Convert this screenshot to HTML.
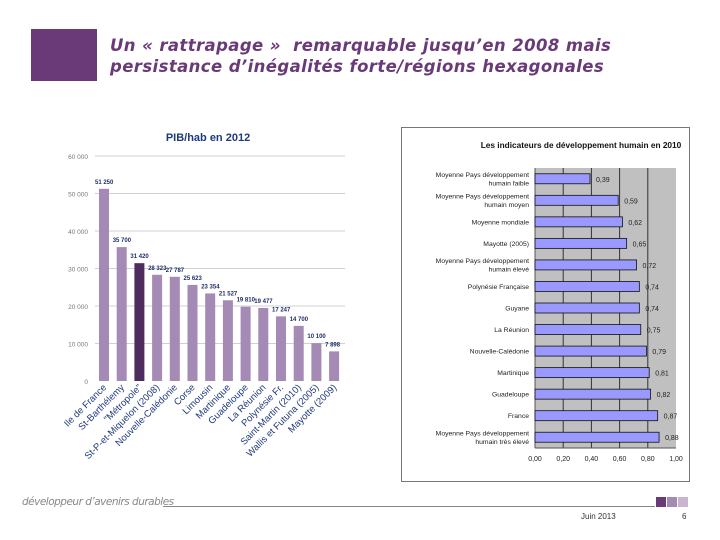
<!DOCTYPE html>
<html><head><meta charset="utf-8"><style>
body{margin:0;background:#fff;}
#root{position:relative;width:720px;height:540px;overflow:hidden;font-family:"Liberation Sans",sans-serif;}
.t{position:absolute;white-space:nowrap;}
</style></head><body>
<div id="root">
<div style="position:absolute;left:31px;top:29px;width:66px;height:52px;background:#6a3a78"></div>
<div class="t" style="left:110px;top:35px;font-size:16.5px;line-height:21px;font-weight:bold;font-style:italic;color:#6a3a78;font-family:'DejaVu Sans',sans-serif;letter-spacing:0.4px">Un « rattrapage »&nbsp; remarquable jusqu’en 2008 mais<br>persistance d’inégalités forte/régions hexagonales</div>

<svg id="left" width="720" height="540" style="position:absolute;left:0;top:0" font-family="Liberation Sans, sans-serif"></svg>

<div style="position:absolute;left:401px;top:127px;width:287px;height:353px;border:1px solid #777"></div>
<svg id="right" width="720" height="540" style="position:absolute;left:0;top:0" font-family="Liberation Sans, sans-serif"></svg>

<div class="t" style="left:22px;top:496px;font-size:10.5px;color:#888;font-style:italic;font-family:'DejaVu Sans',sans-serif;letter-spacing:-0.5px">développeur d’avenirs durables</div>
<div style="position:absolute;left:163px;top:506px;width:492px;height:1px;background:#888"></div>
<div style="position:absolute;left:656px;top:497px;width:10px;height:10px;background:#6a3a78"></div>
<div style="position:absolute;left:667px;top:497px;width:10px;height:10px;background:#a48ab4"></div>
<div style="position:absolute;left:678px;top:497px;width:10px;height:10px;background:#c8b6d0"></div>
<div class="t" style="left:581px;top:512px;font-size:8px;color:#333">Juin 2013</div>
<div class="t" style="left:682px;top:512px;font-size:8px;color:#333">6</div>
</div>
<script>
const pibCategories=["Ile de France","St-Barthélemy","\"Métropole\"","St-P-et-Miquelon (2008)","Nouvelle-Calédonie","Corse","Limousin","Martinique","Guadeloupe","La Réunion","Polynésie Fr.","Saint-Martin (2010)","Wallis et Futuna (2005)","Mayotte (2009)"];
const pibValues=[51250,35700,31420,28323,27787,25623,23354,21527,19810,19477,17247,14700,10100,7898];
const pibLabels=["51 250","35 700","31 420","28 323","27 787","25 623","23 354","21 527","19 810","19 477","17 247","14 700","10 100","7 898"];
const pibTicks=[0,10000,20000,30000,40000,50000,60000];
const pibTickLabels=["0","10 000","20 000","30 000","40 000","50 000","60 000"];

const idhCategories=["Moyenne Pays développement|humain faible","Moyenne Pays développement|humain moyen","Moyenne mondiale","Mayotte (2005)","Moyenne Pays développement|humain élevé","Polynésie Française","Guyane","La Réunion","Nouvelle-Calédonie","Martinique","Guadeloupe","France","Moyenne Pays développement|humain très élevé"];
const idhValues=[0.39,0.59,0.62,0.65,0.72,0.74,0.74,0.75,0.79,0.81,0.82,0.87,0.88];
const idhTicks=[0,0.2,0.4,0.6,0.8,1.0];

const NS="http://www.w3.org/2000/svg";
function mk(svg,tag,attrs,text){const e=document.createElementNS(NS,tag);for(const k in attrs)e.setAttribute(k,attrs[k]);if(text!==undefined)e.textContent=text;svg.appendChild(e);return e;}

// Left chart
const L=document.getElementById('left');
const ly=v=>381-v*225/60000;
const lx=i=>99+i*17.7;
let e=mk(L,'text',{x:208,y:141,'font-size':11,'font-weight':'bold','text-anchor':'middle',fill:'#1f3a7a'},'PIB/hab en 2012');

pibTicks.forEach((t,i)=>{
  if(t>0){const g=mk(L,'line',{x1:95,x2:345,y1:ly(t),y2:ly(t),stroke:'#d0d0d0','stroke-width':1});
  }
  const tl=mk(L,'text',{x:88,y:ly(t)+3,'font-size':6.5,'text-anchor':'end',fill:'#777'},pibTickLabels[i]);
  
});
pibValues.forEach((v,i)=>{
  const b=mk(L,'rect',{x:lx(i),y:ly(v),width:10,height:381-ly(v),fill:i===2?'#4f2c5e':'#a48ab4'});
  
  const t=mk(L,'text',{x:lx(i)-4,y:ly(v)-5,'font-size':6,'font-weight':'bold',fill:'#1f2f6a'},pibLabels[i]);
  
  const c=mk(L,'text',{x:lx(i)+8,y:388,'font-size':9.5,'text-anchor':'end',fill:'#1f3a7a',transform:`rotate(-45 ${lx(i)+8} 388)`},pibCategories[i]);
  
});

// Right chart
const R=document.getElementById('right');
const rx=v=>535+v*141;
const rowH=(448-168)/idhCategories.length;
e=mk(R,'text',{x:581,y:148,'font-size':8.3,'font-weight':'bold','text-anchor':'middle',fill:'#111'},'Les indicateurs de développement humain en 2010');

e=mk(R,'rect',{x:535,y:168,width:141,height:280,fill:'#c0c0c0'});

idhTicks.forEach(t=>{
  if(t>0&&t<1){const g=mk(R,'line',{x1:rx(t),x2:rx(t),y1:168,y2:448,stroke:'#333','stroke-width':1});
  }
  const tl=mk(R,'text',{x:rx(t),y:461,'font-size':7,'text-anchor':'middle',fill:'#222'},t.toFixed(2).replace('.',','));
  
});
e=mk(R,'line',{x1:535,x2:535,y1:168,y2:448,stroke:'#555'});

e=mk(R,'line',{x1:535,x2:676,y1:448,y2:448,stroke:'#555'});

idhValues.forEach((v,i)=>{
  const cy=168+rowH*(i+0.5);
  const b=mk(R,'rect',{x:535,y:cy-5,width:rx(v)-535,height:10,fill:'#9999ff',stroke:'#111','stroke-width':0.8});
  
  const t=mk(R,'text',{x:rx(v)+6,y:cy+3,'font-size':7,fill:'#222'},v.toFixed(2).replace('.',','));
  
  const parts=idhCategories[i].split('|');
  parts.forEach((p,j)=>{
    const yy=cy+2.5+(j-(parts.length-1)/2)*8.5;
    const c=mk(R,'text',{x:529,y:yy,'font-size':6.8,'text-anchor':'end',fill:'#222'},p);
    
  });
});
</script>
</body></html>
